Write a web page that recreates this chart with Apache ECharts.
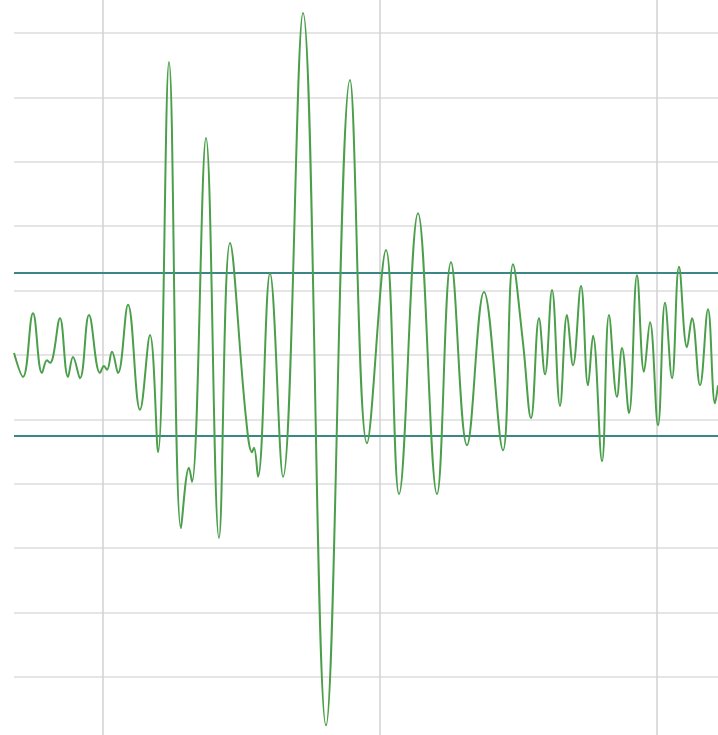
<!DOCTYPE html>
<html>
<head>
<meta charset="utf-8">
<script src="https://cdn.jsdelivr.net/npm/echarts@6/dist/echarts.min.js"></script>
<style>
  html, body { margin: 0; padding: 0; background: #ffffff; }
  #chart { width: 718px; height: 735px; }
</style>
</head>
<body>
<div id="chart"></div>
<script>
// Sample times (arbitrary units) and signal amplitude (gridline units)
const sampleTime = [0, 9, 19, 28, 33, 36, 39, 46, 54, 59, 66, 75, 86, 90, 93, 98, 104, 114, 126, 136, 144, 155, 167, 175, 178, 192, 205, 216, 232, 238, 240, 244, 256, 269, 289, 312, 336, 353, 372, 385, 404, 423, 437, 453, 470, 489, 499, 509, 517, 525, 531, 538, 546, 553, 559, 567, 574, 579, 588, 595, 603, 608, 615, 623, 630, 636, 644, 651, 658, 665, 673, 678, 686, 694, 701, 704];
const amplitude = [0.03, -0.34, 0.65, -0.28, -0.08, -0.12, -0.03, 0.57, -0.34, -0.03, -0.36, 0.62, -0.28, -0.17, -0.23, 0.05, -0.28, 0.78, -0.85, 0.31, -1.51, 4.55, -2.69, -1.75, -1.97, 3.37, -2.84, 1.74, -0.98, -1.51, -1.44, -1.89, 1.27, -1.89, 5.31, -5.75, 4.27, -1.37, 1.63, -2.16, 2.20, -2.16, 1.44, -1.40, 0.98, -1.48, 1.41, 0.19, -0.98, 0.57, -0.30, 1.01, -0.79, 0.62, -0.16, 1.07, -0.47, 0.30, -1.65, 0.62, -0.65, 0.11, -0.90, 1.24, -0.26, 0.51, -1.09, 0.81, -0.36, 1.37, 0.12, 0.57, -0.47, 0.71, -0.75, -0.47];
// Threshold levels (upper / lower)
const thresholds = [1.27, -1.26];
// Horizontal gridline levels
const horizontalGrid = [-5, -4, -3, -2, -1, 0, 1, 2, 3, 4, 5];
// Vertical reference gridlines (sample time)
const verticalGrid = [89, 366, 643];
// Visible amplitude range
const yRange = [-5.90, 5.512];

const chart = echarts.init(document.getElementById('chart'), null, { renderer: 'canvas' });
const seriesData = sampleTime.map((t, i) => [t, amplitude[i]]);

chart.setOption({
  animation: false,
  backgroundColor: '#ffffff',
  grid: { left: 14, right: 0, top: 0, bottom: 0, containLabel: false },
  xAxis: {
    type: 'value', min: 0, max: 704,
    axisLine: { show: false }, axisTick: { show: false }, axisLabel: { show: false },
    splitLine: { show: false }
  },
  yAxis: {
    type: 'value', min: yRange[0], max: yRange[1],
    axisLine: { show: false }, axisTick: { show: false }, axisLabel: { show: false },
    splitLine: { show: false }
  },
  series: [
    {
      type: 'line',
      data: seriesData,
      smooth: 0.4,
      symbol: 'none',
      z: 5,
      lineStyle: { color: '#4b9f4b', width: 2 },
      markLine: {
        silent: true,
        symbol: 'none',
        label: { show: false },
        animation: false,
        z: 1,
        data: [
          ...horizontalGrid.map(y => ({ yAxis: y, lineStyle: { color: '#dcdcdc', width: 1.5, type: 'solid' } })),
          ...verticalGrid.map(x => ({ xAxis: x, lineStyle: { color: '#d2d2d2', width: 1.5, type: 'solid' } })),
          ...thresholds.map(y => ({ yAxis: y, lineStyle: { color: '#3b8686', width: 2, type: 'solid' } }))
        ]
      }
    }
  ]
});
</script>
</body>
</html>
